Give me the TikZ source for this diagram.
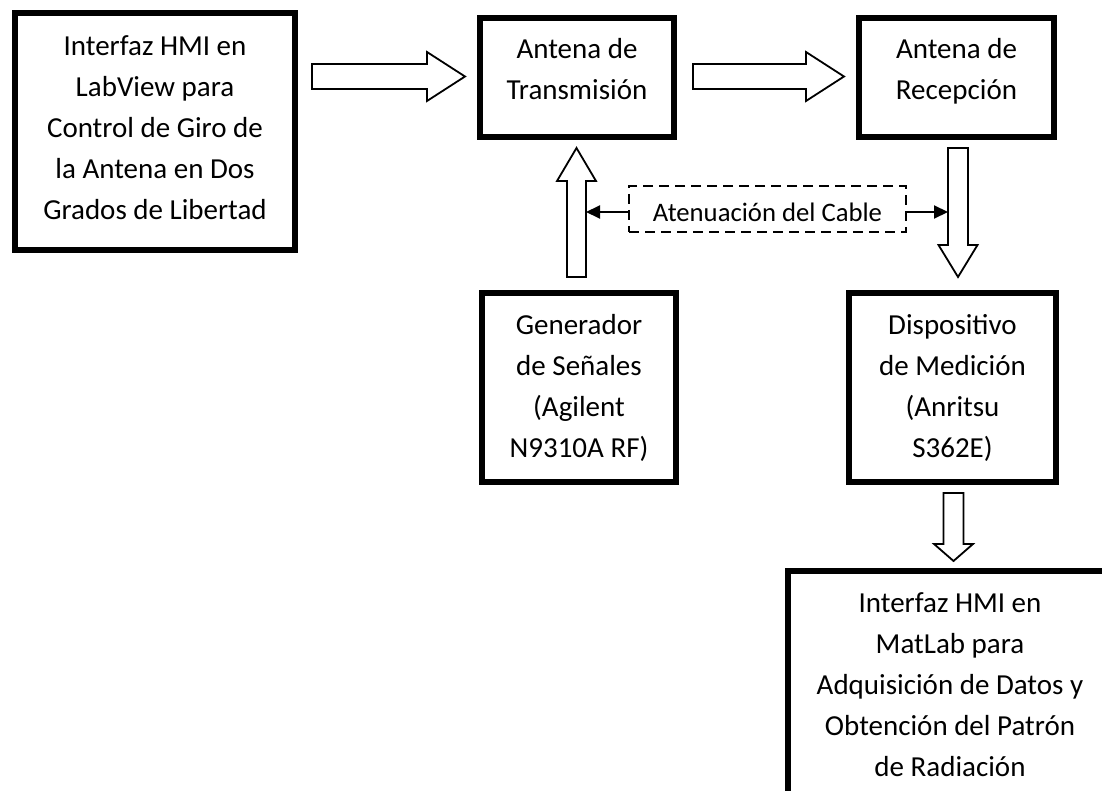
\documentclass[tikz,border=0pt]{standalone}
\usepackage{fontspec}
\setmainfont{Carlito}
\usetikzlibrary{arrows.meta,calc}
\newcommand\mystrut{\rule[-12.3pt]{0pt}{41pt}}
\newcommand\hblock[6]{% x0 x1 x2 y halfshaft halfhead
  \draw[blockarrow] (#1,#4-#5) -- (#2,#4-#5) -- (#2,#4-#6) -- (#3,#4) -- (#2,#4+#6) -- (#2,#4+#5) -- (#1,#4+#5) -- cycle;}
\newcommand\vblock[6]{% y0 y1 y2 x halfshaft halfhead
  \draw[blockarrow] (#4-#5,#1) -- (#4-#5,#2) -- (#4-#6,#2) -- (#4,#3) -- (#4+#6,#2) -- (#4+#5,#2) -- (#4+#5,#1) -- cycle;}
\tikzset{
  blk/.style={draw, line width=6pt, rectangle, inner sep=0pt},
  txt/.style={anchor=north, inner sep=0pt, align=center, font=\fontsize{29}{41}\selectfont},
  blockarrow/.style={draw, line width=1.8pt, fill=white, line join=miter},
  thinarrow/.style={line width=2pt, -{Triangle[length=14pt,width=13pt]}},
  dashbox/.style={draw, dashed, line width=2pt, dash pattern=on 10pt off 6pt, inner sep=0pt,
    font=\fontsize{26.7}{32}\selectfont, text height=25.6pt, text depth=0pt}
}
\begin{document}
\begin{tikzpicture}[x=1pt,y=-1pt]
\useasboundingbox (0,0) rectangle (1102,791);
\clip (0,0) rectangle (1102,791);
\fill[white] (0,0) rectangle (1102,791);
% boxes
\node[blk, minimum width=280pt, minimum height=237pt] (hmi) at (155,131.5) {};
\node[txt] (hmit) at (155,26.3) {\mystrut Interfaz HMI en\\\mystrut LabView para\\\mystrut Control de Giro de\\\mystrut la Antena en Dos\\\mystrut Grados de Libertad};
\node[blk, minimum width=194pt, minimum height=119pt] (tx) at (577,77.5) {};
\node[txt] (txt1) at (577,29.3) {\mystrut Antena de\\\mystrut Transmisión};
\node[blk, minimum width=195pt, minimum height=119pt] (rx) at (956.5,77.5) {};
\node[txt] (rxt) at (956.5,29.3) {\mystrut Antena de\\\mystrut Recepción};
\node[blk, minimum width=194pt, minimum height=189pt] (gen) at (579,387.5) {};
\node[txt] (gent) at (579,305.3) {\mystrut Generador\\\mystrut de Señales\\\mystrut (Agilent\\\mystrut N9310A RF)};
\node[blk, minimum width=207pt, minimum height=189pt] (med) at (952.5,387.5) {};
\node[txt] (medt) at (952.5,305.3) {\mystrut Dispositivo\\\mystrut de Medición\\\mystrut (Anritsu\\\mystrut S362E)};
\node[blk, minimum width=324pt, minimum height=249pt] (mat) at (950,695.5) {};
\node[txt] (matt) at (950,584) {\mystrut Interfaz HMI en\\\mystrut MatLab para\\\mystrut Adquisición de Datos y\\\mystrut Obtención del Patrón\\\mystrut de Radiación};
% block arrows
\hblock{312}{427}{465}{76.5}{12.5}{24.5}
\hblock{693}{806}{844}{76.5}{12.5}{24.5}
\vblock{277}{181}{148}{576.5}{9.5}{19.5}
\vblock{148}{245}{277}{958}{10}{19.5}
\vblock{493}{544}{561}{953.5}{10}{19.5}
% attenuation
\node[dashbox, minimum width=277pt, minimum height=46pt] (att) at (767.5,209) {Atenuación del Cable};
\coordinate (upR) at (586,212);
\coordinate (dnL) at (948,212);
\draw[thinarrow] (att.west |- upR) -- (upR);
\draw[thinarrow] (att.east |- dnL) -- (dnL);
\end{tikzpicture}
\end{document}
